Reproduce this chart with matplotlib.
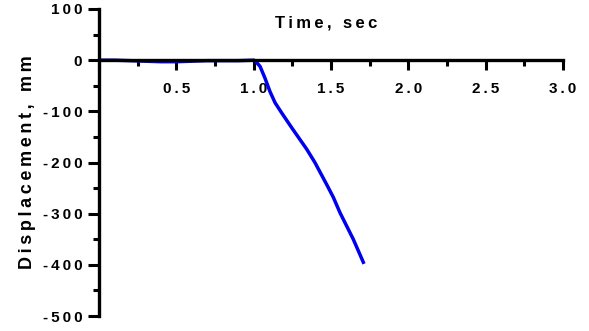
import matplotlib
matplotlib.use('Agg')
import matplotlib.pyplot as plt
from matplotlib.ticker import MultipleLocator, FuncFormatter

# данные
time_s = [0.0, 0.1, 0.2, 0.3, 0.4, 0.5, 0.6, 0.7, 0.8, 0.9, 1.0, 1.008,
          1.041, 1.073, 1.105, 1.138, 1.181, 1.246, 1.299, 1.343, 1.396,
          1.472, 1.515, 1.558, 1.601, 1.644, 1.709]
displacement_mm = [0, 0, -1, -2, -3, -3, -2, -1, -1, -1, 0, -1,
                   -12, -35, -61, -83, -103, -132, -155, -174, -200,
                   -243, -268, -298, -324, -350, -395]


def spaced(s):
    # в оригинале буквы идут вразрядку
    return '\u2009'.join(s)


plt.rcParams['font.family'] = ['Liberation Sans', 'DejaVu Sans']
plt.rcParams['font.weight'] = 'bold'
plt.rcParams['axes.unicode_minus'] = False

fig = plt.figure(figsize=(5.89, 3.31), dpi=100)
ax = fig.add_axes([99 / 589, 1 - 316 / 331, 464 / 589, 307 / 331])

ax.plot(time_s, displacement_mm, color='#0000f0', linewidth=2.5)

ax.set_xlim(0, 3.0)
ax.set_ylim(-500, 100)

ax.spines['top'].set_visible(False)
ax.spines['right'].set_visible(False)
ax.spines['bottom'].set_position(('data', 0))
for s in ('left', 'bottom'):
    ax.spines[s].set_linewidth(2.4)

ax.xaxis.set_major_locator(MultipleLocator(0.5))
ax.xaxis.set_minor_locator(MultipleLocator(0.25))
ax.yaxis.set_major_locator(MultipleLocator(100))
ax.yaxis.set_minor_locator(MultipleLocator(50))
ax.xaxis.set_major_formatter(FuncFormatter(lambda v, p: '' if abs(v) < 1e-9 else spaced(f'{v:.1f}')))
ax.yaxis.set_major_formatter(FuncFormatter(lambda v, p: spaced(f'{v:.0f}')))

ax.tick_params(axis='x', which='major', direction='out', length=7, width=2.2, pad=9, labelsize=11)
ax.tick_params(axis='x', which='minor', direction='out', length=4, width=2.2)
ax.tick_params(axis='y', which='major', direction='out', length=8, width=2.2, pad=4, labelsize=11)
ax.tick_params(axis='y', which='minor', direction='out', length=4, width=2.2)

ax.set_xlabel(spaced('Time, sec'), fontsize=12, fontweight='bold')
ax.xaxis.set_label_coords(0.49, 0.98)
ax.set_ylabel(spaced('Displacement, mm'), fontsize=13, fontweight='bold')
ax.yaxis.set_label_coords(-0.135, 0.5)

fig.savefig('out.png', dpi=100)
